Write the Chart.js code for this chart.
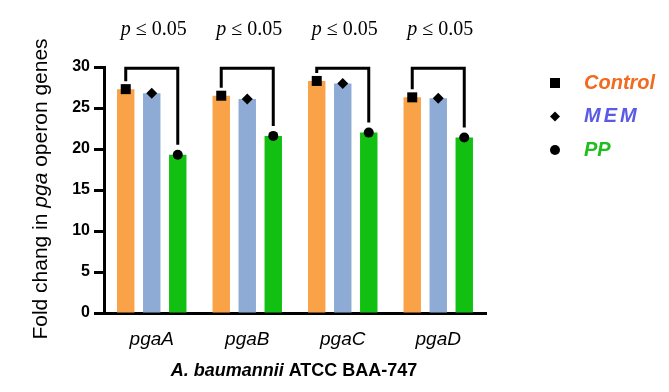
<!DOCTYPE html>
<html>
<head>
<meta charset="utf-8">
<script src="https://cdn.jsdelivr.net/npm/chart.js@4"></script>
<style>
  html, body { margin: 0; padding: 0; background: #fff; }
  #wrap { width: 669px; height: 392px; }
</style>
</head>
<body>
<div id="wrap"><canvas id="myChart" width="669" height="392"></canvas></div>
<script>
// data
const genes = ['pgaA', 'pgaB', 'pgaC', 'pgaD'];
const controlVals = [27.3, 26.5, 28.3, 26.3];
const memVals = [26.8, 26.1, 28.0, 26.2];
const ppVals = [19.3, 21.6, 22.0, 21.4];
const pLabels = ['p ≤ 0.05', 'p ≤ 0.05', 'p ≤ 0.05', 'p ≤ 0.05'];
const yTicks = [0, 5, 10, 15, 20, 25, 30];

const seriesNames = ['Control', 'MEM', 'PP'];
const barColors = ['#F9A247', '#8EABD5', '#12C012'];
const legendColors = ['#F26A1E', '#5A5AE6', '#1DBE1D'];
const markerShapes = ['square', 'diamond', 'circle'];

const SANS = '"Liberation Sans", Arial, sans-serif';
const SERIF = '"Liberation Serif", "Times New Roman", serif';

const drawMarker = (ctx, shape, x, y, r) => {
  ctx.fillStyle = '#000';
  ctx.beginPath();
  if (shape === 'square') {
    ctx.rect(x - r, y - r, r * 2, r * 2);
  } else if (shape === 'diamond') {
    ctx.moveTo(x, y - r);
    ctx.lineTo(x + r, y);
    ctx.lineTo(x, y + r);
    ctx.lineTo(x - r, y);
    ctx.closePath();
  } else {
    ctx.arc(x, y, r, 0, Math.PI * 2);
  }
  ctx.fill();
};

// write pieces of text with different fonts one after another
const drawParts = (ctx, parts, cx, cy) => {
  let total = 0;
  parts.forEach(p => {
    ctx.font = p[1];
    total += ctx.measureText(p[0]).width;
  });
  let px = cx - total / 2;
  ctx.textAlign = 'left';
  ctx.textBaseline = 'middle';
  parts.forEach(p => {
    ctx.font = p[1];
    ctx.fillText(p[0], px, cy);
    px += ctx.measureText(p[0]).width;
  });
};

// markers, brackets, p-values, titles, legend
const extrasPlugin = {
  id: 'extras',
  afterDatasetsDraw(chart) {
    const ctx = chart.ctx;
    const y = chart.scales.y;
    ctx.save();

    // markers at bar tops
    chart.data.datasets.forEach((ds, di) => {
      const meta = chart.getDatasetMeta(di);
      meta.data.forEach(bar => {
        drawMarker(ctx, markerShapes[di], bar.x, bar.y, markerShapes[di] === 'diamond' ? 5.5 : 5);
      });
    });

    // brackets Control vs PP
    const topY = y.getPixelForValue(29.85);
    ctx.strokeStyle = '#000';
    ctx.lineWidth = 3;
    genes.forEach((g, i) => {
      const a = chart.getDatasetMeta(0).data[i];
      const c = chart.getDatasetMeta(2).data[i];
      ctx.beginPath();
      ctx.moveTo(a.x, a.y - 8);
      ctx.lineTo(a.x, topY);
      ctx.lineTo(c.x, topY);
      ctx.lineTo(c.x, c.y - 10);
      ctx.stroke();

      // p value text
      const cx = chart.scales.x.getPixelForValue(i) + 2;
      const parts = pLabels[i].split(' ');
      ctx.fillStyle = '#000';
      drawParts(ctx, [
        [parts[0] + ' ', 'italic 20px ' + SERIF],
        [parts.slice(1).join(' '), '20px ' + SERIF]
      ], cx, 30);
    });

    // y axis title (mixed italic)
    ctx.save();
    ctx.translate(41, 189);
    ctx.rotate(-Math.PI / 2);
    ctx.fillStyle = '#000';
    drawParts(ctx, [
      ['Fold chang in ', '21px ' + SANS],
      ['pga', 'italic 21px ' + SANS],
      [' operon genes', '21px ' + SANS]
    ], 0, 0);
    ctx.restore();

    // x axis title
    ctx.fillStyle = '#000';
    drawParts(ctx, [
      ['A. baumannii', 'bold italic 18px ' + SANS],
      [' ATCC BAA-747', 'bold 18px ' + SANS]
    ], 294, 371);

    // legend
    seriesNames.forEach((name, i) => {
      const ly = 83 + i * 33.5;
      drawMarker(ctx, markerShapes[i], 555, ly, 5);
      ctx.font = 'bold italic 20px ' + SANS;
      ctx.fillStyle = legendColors[i];
      ctx.textAlign = 'left';
      ctx.textBaseline = 'middle';
      if (name === 'MEM') {
        ctx.letterSpacing = '3px';
      } else {
        ctx.letterSpacing = '0px';
      }
      ctx.fillText(name, 584, ly);
    });
    ctx.letterSpacing = '0px';

    ctx.restore();
  }
};

const ctx = document.getElementById('myChart').getContext('2d');
new Chart(ctx, {
  type: 'bar',
  data: {
    labels: genes,
    datasets: [
      { label: seriesNames[0], data: controlVals, backgroundColor: barColors[0] },
      { label: seriesNames[1], data: memVals, backgroundColor: barColors[1] },
      { label: seriesNames[2], data: ppVals, backgroundColor: barColors[2] }
    ]
  },
  options: {
    responsive: false,
    animation: false,
    categoryPercentage: 0.817,
    barPercentage: 0.67,
    layout: { padding: { top: 67, right: 183, left: 0, bottom: 0 } },
    scales: {
      x: {
        grid: { display: false, drawTicks: true, tickLength: 10, tickWidth: 3, tickColor: '#000', offset: false },
        border: { color: '#000', width: 3 },
        ticks: {
          color: '#000',
          padding: 5,
          font: { family: SANS, size: 19, style: 'italic' }
        },
        afterFit(scale) { scale.height = 79; }
      },
      y: {
        min: 0,
        max: 30,
        afterBuildTicks(scale) { scale.ticks = yTicks.map(v => ({ value: v })); },
        grid: { drawOnChartArea: false, drawTicks: true, tickLength: 10, tickWidth: 3, tickColor: '#000' },
        border: { color: '#000', width: 3 },
        ticks: {
          color: '#000',
          padding: 4,
          font: { family: SANS, size: 16, weight: 'bold' }
        },
        afterFit(scale) { scale.width = 104; }
      }
    },
    plugins: {
      legend: { display: false },
      tooltip: { enabled: false }
    }
  },
  plugins: [extrasPlugin]
});
</script>
</body>
</html>
